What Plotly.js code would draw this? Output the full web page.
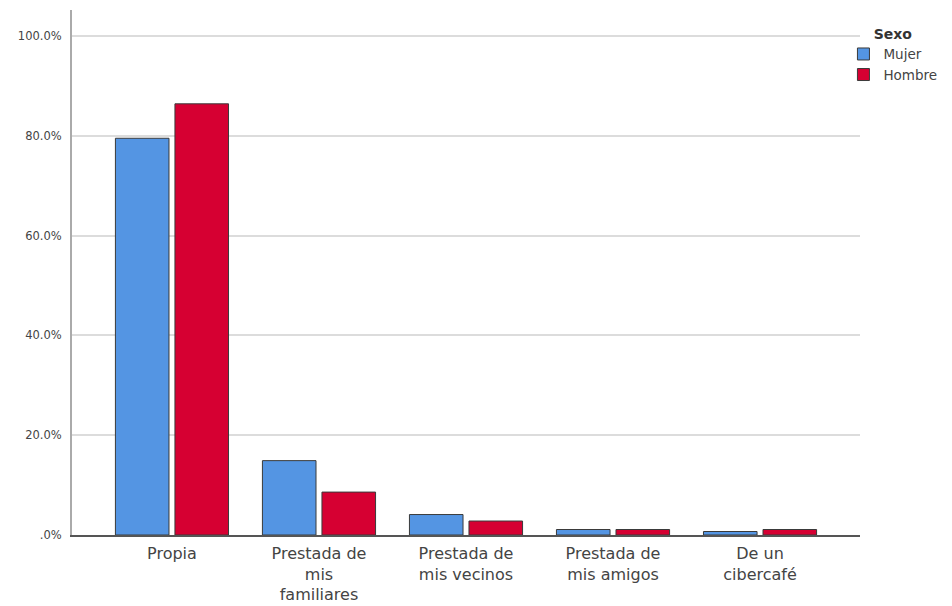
<!DOCTYPE html>
<html>
<head>
<meta charset="utf-8">
<script src="https://cdn.plot.ly/plotly-3.0.1.min.js"></script>
<style>html,body{margin:0;padding:0;background:#fff;}#chart{width:952px;height:606px;}</style>
</head>
<body>
<div id="chart"></div>
<script>
const categories = ["Propia", "Prestada de<br>mis<br>familiares", "Prestada de<br>mis vecinos", "Prestada de<br>mis amigos", "De un<br>cibercafé"];
const mujer = [79.5, 14.9, 4.1, 1.1, 0.7];
const hombre = [86.4, 8.6, 2.8, 1.1, 1.1];
const yTickVals = [0, 20, 40, 60, 80, 100];
const yTickText = [".0%", "20.0%", "40.0%", "60.0%", "80.0%", "100.0%"];

const traces = [
  {type: 'bar', name: 'Mujer', x: categories, y: mujer,
   marker: {color: '#5495E3', line: {color: '#3a3a3a', width: 1}}},
  {type: 'bar', name: 'Hombre', x: categories, y: hombre,
   marker: {color: '#D60032', line: {color: '#3a3a3a', width: 1}}}
];

const layout = {
  width: 952, height: 606,
  margin: {l: 72, r: 90, t: 10, b: 71},
  paper_bgcolor: '#fff', plot_bgcolor: '#fff',
  barmode: 'group', bargap: 0.19, bargroupgap: 0.1,
  font: {family: 'DejaVu Sans, sans-serif', color: '#333'},
  xaxis: {
    type: 'category', range: [-0.68, 4.68],
    showgrid: false, showline: true, linecolor: '#555', linewidth: 1.5,
    ticks: '', ticklabelstandoff: 3, tickfont: {size: 16, color: '#444'}, fixedrange: true
  },
  yaxis: {
    range: [0, 105.2], tickvals: yTickVals, ticktext: yTickText,
    showgrid: true, gridcolor: '#dcdcdc', gridwidth: 2,
    showline: true, linecolor: '#aaa', linewidth: 2,
    zeroline: false, ticks: '', ticklen: 0, ticklabelstandoff: 6,
    tickfont: {size: 11.5, color: '#444'}
  },
  legend: {
    x: 0.979, xanchor: 'left', y: 0.98, yanchor: 'top',
    title: {text: '<b>Sexo</b>', font: {size: 14, color: '#333'}, side: 'top center'},
    font: {size: 13.5, color: '#444'},
    itemwidth: 30, tracegroupgap: 0, traceorder: 'normal',
    bgcolor: 'rgba(0,0,0,0)'
  },
  showlegend: true
};

Plotly.newPlot('chart', traces, layout, {displayModeBar: false, staticPlot: true});
</script>
</body>
</html>
